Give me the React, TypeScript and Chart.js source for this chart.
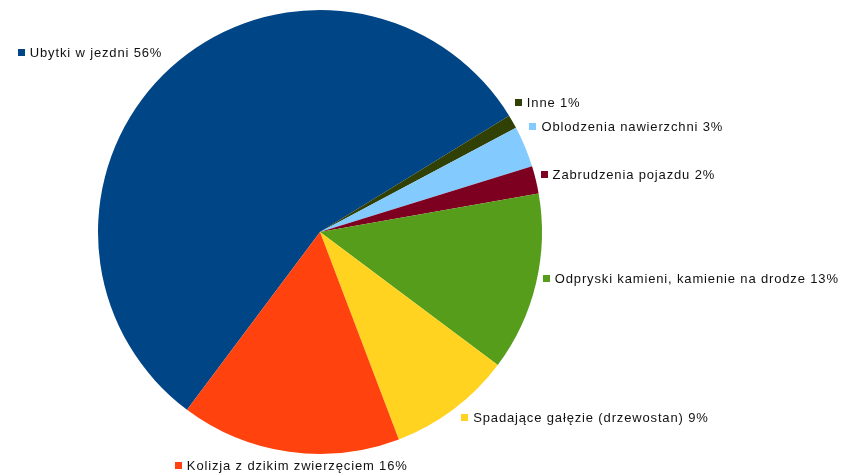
import React, { useEffect, useRef } from "react";
import { Chart, registerables } from "chart.js";

Chart.register(...registerables);

const categories = [
  "Ubytki w jezdni",
  "Inne",
  "Oblodzenia nawierzchni",
  "Zabrudzenia pojazdu",
  "Odpryski kamieni, kamienie na drodze",
  "Spadające gałęzie (drzewostan)",
  "Kolizja z dzikim zwierzęciem",
];
const values = [56, 1, 3, 2, 13, 9, 16];
const colors = ["#004586", "#314004", "#83caff", "#7e0021", "#579d1c", "#ffd320", "#ff420e"];

// label nudges (dx, dy) relative to the computed outside anchor of each slice
const nudges = [
  [-4, -11],
  [-3, -16],
  [-1, -18],
  [-1, -4],
  [1, -6],
  [4, 3],
  [3, 8],
];

const labelPlugin = {
  id: "outsideLabels",
  afterDraw(chart: any) {
    const ctx = chart.ctx;
    const meta = chart.getDatasetMeta(0);
    const total = values.reduce((a, b) => a + b, 0);
    ctx.save();
    ctx.font = "13px 'Liberation Sans', Arial, sans-serif";
    try {
      (ctx as any).letterSpacing = "0.85px";
    } catch (e) {}
    ctx.textBaseline = "middle";
    meta.data.forEach((arc: any, i: number) => {
      const { x, y, startAngle, endAngle, outerRadius } = arc.getProps(
        ["x", "y", "startAngle", "endAngle", "outerRadius"],
        true
      );
      const mid = (startAngle + endAngle) / 2;
      const r = outerRadius + 6;
      const px = x + r * Math.cos(mid);
      const py = y + r * Math.sin(mid);
      const pct = Math.round((values[i] / total) * 100);
      const text = categories[i] + " " + pct + "%";
      const tw = ctx.measureText(text).width;
      const sq = 7;
      const gap = 5;
      const w = sq + gap + tw;
      let left: number;
      const c = Math.cos(mid);
      if (c > 0.25) left = px;
      else if (c < -0.25) left = px - w;
      else left = px - w / 2;
      left += nudges[i][0];
      const cyL = py + nudges[i][1];
      ctx.fillStyle = colors[i];
      ctx.fillRect(Math.round(left), Math.round(cyL - sq / 2), sq, sq);
      ctx.fillStyle = "#111111";
      ctx.textAlign = "left";
      ctx.fillText(text, left + sq + gap, cyL + 1);
    });
    ctx.restore();
  },
};

export default function App() {
  const ref = useRef<HTMLCanvasElement | null>(null);
  useEffect(() => {
    document.body.style.margin = "0";
    const chart = new Chart(ref.current as HTMLCanvasElement, {
      type: "pie",
      data: {
        labels: categories,
        datasets: [
          {
            data: values,
            backgroundColor: colors,
            borderWidth: 0,
          },
        ],
      },
      options: {
        responsive: false,
        animation: false,
        rotation: 216.8,
        layout: { padding: { left: 98, right: 301, top: 10, bottom: 22 } },
        plugins: {
          legend: { display: false },
          tooltip: { enabled: false },
        },
      },
      plugins: [labelPlugin],
    });
    return () => chart.destroy();
  }, []);
  return (
    <div style={{ width: 843, height: 476, background: "#ffffff" }}>
      <canvas ref={ref} width={843} height={476} />
    </div>
  );
}
